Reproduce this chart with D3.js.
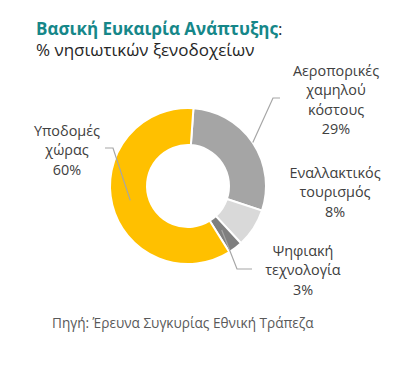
<!DOCTYPE html>
<html><head><meta charset="utf-8">
<script src="https://cdn.jsdelivr.net/npm/d3@7"></script>
<style>html,body{margin:0;padding:0;background:#fff;}svg{display:block;}</style>
</head><body>
<svg id="chart" width="406" height="386"></svg>
<script>
const categories = ["Αεροπορικές χαμηλού κόστους", "Εναλλακτικός τουρισμός", "Ψηφιακή τεχνολογία", "Υποδομές χώρας"];
const labelLines = [["Αεροπορικές", "χαμηλού", "κόστους"], ["Εναλλακτικός", "τουρισμός"], ["Ψηφιακή", "τεχνολογία"], ["Υποδομές", "χώρας"]];
const values = [29, 8, 3, 60];
const colors = ["#a5a5a5", "#d9d9d9", "#7f7f7f", "#ffc000"];

const svg = d3.select("#chart");
const font = "'Open Sans', 'Noto Sans', sans-serif";
const cx = 188, cy = 186, rOuter = 78, rInner = 41;
const startDeg = 4;

// Title
const t1 = svg.append("text").attr("x", 36).attr("y", 35)
  .style("font-family", font).style("font-size", "17px");
t1.append("tspan").text("Βασική Ευκαιρία Ανάπτυξης").attr("fill", "#168789").style("font-weight", "bold");
t1.append("tspan").text(":").attr("fill", "#262626");
svg.append("text").attr("x", 36).attr("y", 56).text("% νησιωτικών ξενοδοχείων")
  .attr("fill", "#262626").style("font-family", font).style("font-size", "17px");

const pie = d3.pie().sort(null).value(d => d)
  .startAngle(startDeg * Math.PI / 180).endAngle(startDeg * Math.PI / 180 + 2 * Math.PI);
const arcs = pie(values);
const arc = d3.arc().innerRadius(rInner).outerRadius(rOuter);
const g = svg.append("g").attr("transform", `translate(${cx},${cy})`);
g.selectAll("path").data(arcs).enter().append("path")
  .attr("d", arc).attr("fill", (d, i) => colors[i])
  .attr("stroke", "#fff").attr("stroke-width", 2);

// Leader lines
const pt = (a, r) => [cx + r * Math.sin(a), cy - r * Math.cos(a)];
const mid = d => (d.startAngle + d.endAngle) / 2;
const rc = (rInner + rOuter) / 2;
const leaders = [
  {i: 0, r: rOuter, pts: [[273, 98], [280, 98]]},
  {i: 2, r: rc - 4, pts: [[237, 269], [252, 269]]},
  {i: 3, r: rc, pts: [[113, 148], [105, 148]]}
];
leaders.forEach(l => {
  const p0 = pt(mid(arcs[l.i]), l.r);
  svg.append("polyline").attr("points", [p0, ...l.pts].map(p => p.join(",")).join(" "))
    .attr("fill", "none").attr("stroke", "#a6a6a6").attr("stroke-width", 1.2);
});

// Labels
const labelPos = [[336, 76], [335, 178], [303, 256], [67, 136]];
labelLines.forEach((lines, i) => {
  const t = svg.append("text").attr("text-anchor", "middle")
    .attr("fill", "#404040").style("font-family", font).style("font-size", "14.4px");
  lines.concat([values[i] + "%"]).forEach((s, k) => {
    t.append("tspan").attr("x", labelPos[i][0]).attr("y", labelPos[i][1] + k * 19.3).text(s);
  });
});

// Source
svg.append("text").attr("x", 52).attr("y", 328).text("Πηγή: Έρευνα Συγκυρίας Εθνική Τράπεζα")
  .attr("fill", "#595959").style("font-family", font).style("font-size", "13.6px");
</script>
</body></html>
